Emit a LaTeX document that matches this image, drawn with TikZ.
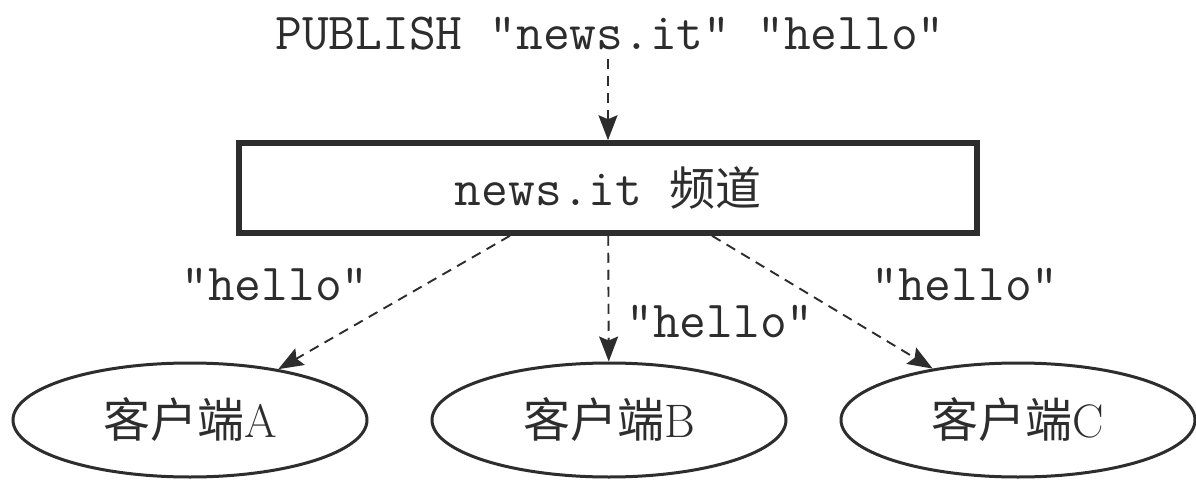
\documentclass[tikz,border=0pt]{standalone}
\usepackage{fontspec}
\newfontfamily\cjk{Noto Sans CJK SC}
\usetikzlibrary{arrows.meta,shapes.geometric}
\definecolor{ink}{RGB}{45,45,45}
\begin{document}
\begin{tikzpicture}[x=1pt,y=-1pt,
  mono/.style={font=\fontsize{52}{60}\selectfont\ttfamily, text=ink, inner sep=0pt},
  chan/.style={draw=ink, line width=5.5pt, minimum width=738pt, minimum height=90pt, inner sep=0pt, text=ink},
  client/.style={ellipse, draw=ink, line width=3pt, minimum width=354pt, minimum height=114pt, inner sep=0pt, font=\fontsize{47}{52}\selectfont, text=ink},
  flow/.style={draw=ink, line width=1.9pt, dash pattern=on 10pt off 7pt, -{Stealth[length=25pt,width=19pt,inset=4pt]}}
]
\useasboundingbox (0,0) rectangle (1196,481);
\node[mono, anchor=base] (cmd) at (610,50) {PUBLISH "news.it" "hello"};
\node[chan] (ch) at (608,188) {\raisebox{-4pt}{\fontsize{52}{60}\selectfont\ttfamily news.it {\cjk\fontsize{46}{52}\selectfont 频道}}};
\node[client] (A) at (190,420) {{\cjk 客户端}A};
\node[client] (B) at (609,420) {{\cjk 客户端}B};
\node[client] (C) at (1018,420) {{\cjk 客户端}C};
\node[mono] (l1) at (275,285) {"hello"};
\node[mono] (l2) at (720,322) {"hello"};
\node[mono] (l3) at (965,285) {"hello"};
\draw[flow, shorten <=8pt] (cmd.south -| ch.north) -- (ch.north);
\draw[flow] ([xshift=-98pt]ch.south) -- (A);
\draw[flow] (ch) -- (B);
\draw[flow] ([xshift=104pt]ch.south) -- (C);
\end{tikzpicture}
\end{document}
